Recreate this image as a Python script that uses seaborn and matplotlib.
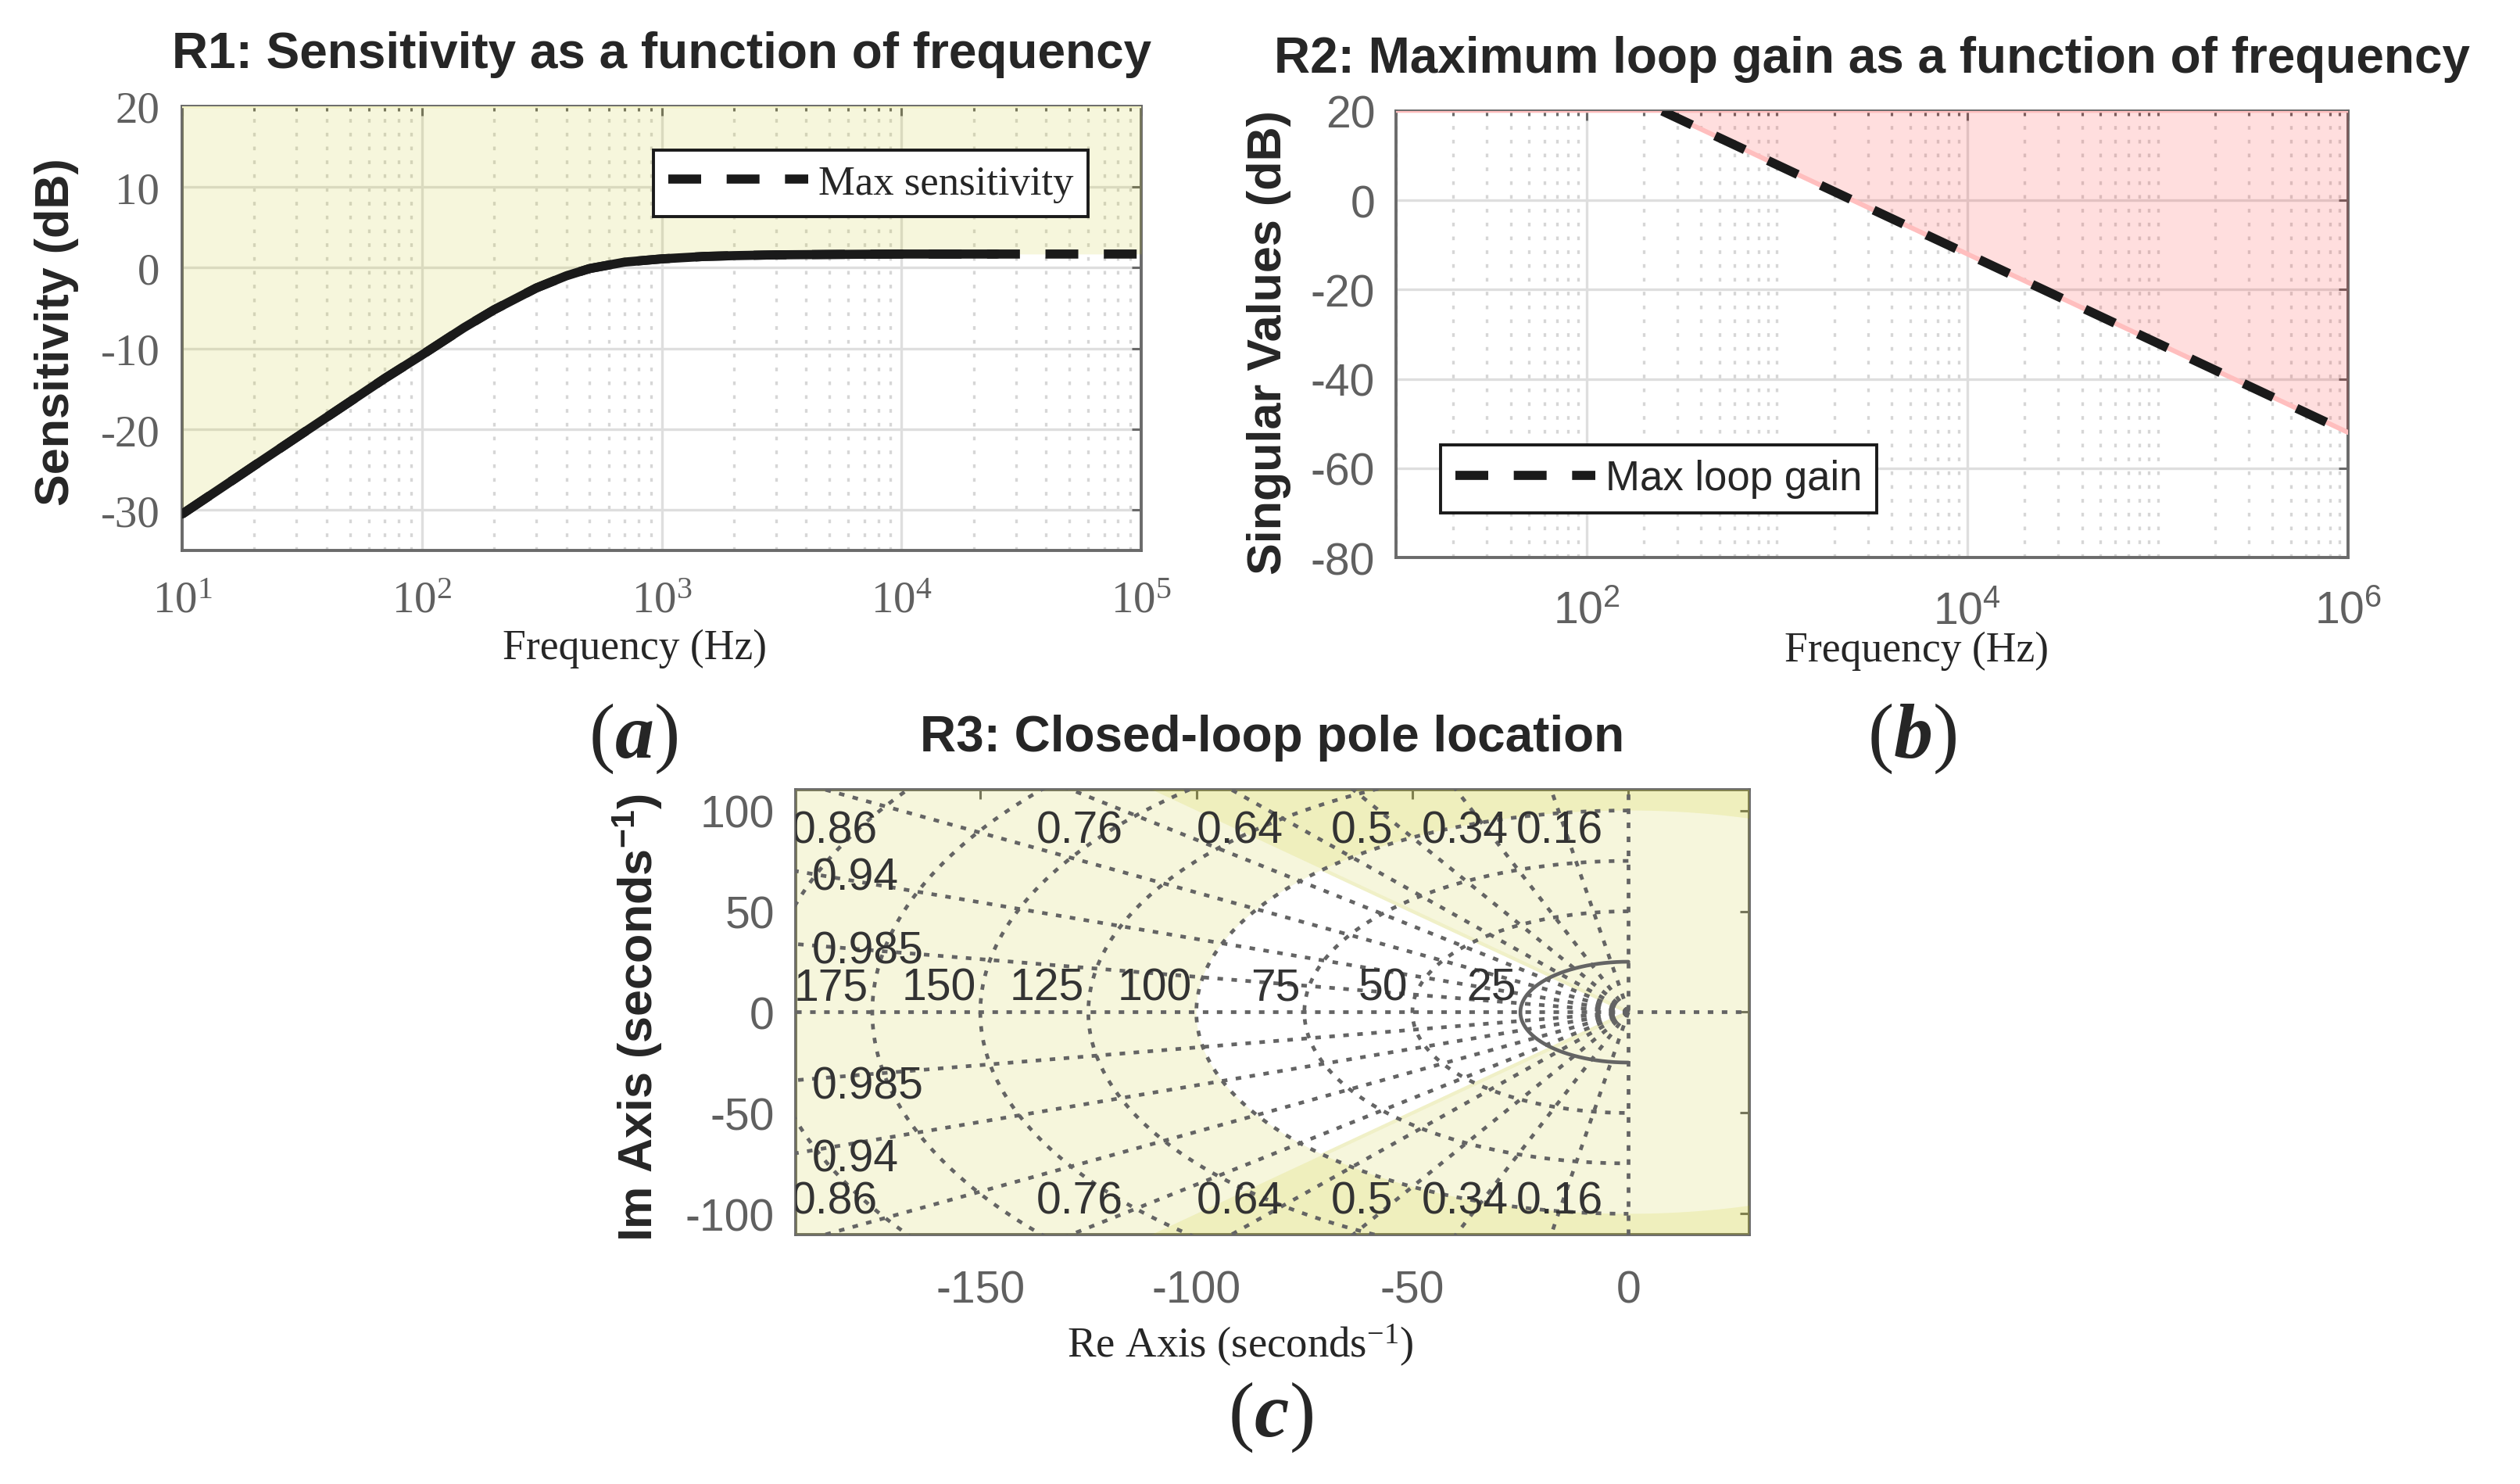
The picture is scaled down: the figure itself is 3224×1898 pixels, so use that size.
import numpy as np
import matplotlib
matplotlib.use('Agg')
import matplotlib.pyplot as plt
import seaborn as sns
from matplotlib.path import Path
from matplotlib.patches import PathPatch
from matplotlib.ticker import LogLocator, FixedLocator, NullFormatter
from matplotlib.offsetbox import TextArea, HPacker, AnnotationBbox

sns.set_theme(style='white')
plt.rcParams['font.family'] = ['Liberation Sans', 'DejaVu Sans']
plt.rcParams['axes.unicode_minus'] = False
plt.rcParams['mathtext.default'] = 'regular'

SANS = 'Liberation Sans'
SERIF = 'Liberation Serif'

# R1: max sensitivity bound (dB) vs frequency (Hz)
sens_freq = [10, 15, 20, 30, 50, 70, 100, 150, 200, 300, 400, 500, 700,
             1000, 1500, 2000, 3000, 5000, 1e4, 2.5e4, 1e5]
sens_db = [-30.5, -27.0, -24.5, -21.0, -16.6, -13.7, -10.8, -7.4, -5.2, -2.5,
           -1.0, -0.1, 0.7, 1.1, 1.4, 1.5, 1.6, 1.65, 1.7, 1.7, 1.7]
sens_solid_end = 2.5e4

# R2: max loop gain bound
gain_freq = [250, 1e6]
gain_db = [20, -52]

# R3: pole constraints and s-grid
zeta_vals = [0.16, 0.34, 0.5, 0.64, 0.76, 0.86, 0.94, 0.985]
wn_vals = [25, 50, 75, 100, 125, 150, 175, 200]
max_freq = 100
min_damping = 0.707

YELLOW = (0.77, 0.77, 0.0)
Y_ALPHA = 0.137
SGRID = '#646464'
DASH = (0, (3.6, 2.8))
MINOR_DOT = (0, (1.4, 3.9))

fig = plt.figure(figsize=(16.12, 9.495), dpi=200)
ax_a = fig.add_axes([0.0723, 0.6288, 0.3806, 0.2991])
ax_b = fig.add_axes([0.5540, 0.6240, 0.3778, 0.3007])
ax_c = fig.add_axes([0.3158, 0.1680, 0.3784, 0.2996])


def style_axis(ax, family, size, xpad, ypad):
    ax.set_axisbelow(True)
    ax.tick_params(which='both', direction='in', top=True, right=True,
                   color='#6a6a6a', labelcolor='#606060', labelsize=size,
                   labelfontfamily=family)
    ax.tick_params(which='major', length=4.2, width=1.1)
    ax.tick_params(which='minor', length=2.2, width=1.1)
    ax.tick_params(axis='x', which='both', pad=xpad)
    ax.tick_params(axis='y', which='both', pad=ypad)
    for sp in ax.spines.values():
        sp.set_visible(True)
        sp.set_color('#6a6a6a')
        sp.set_linewidth(1.4)


def log_grid(ax):
    ax.grid(True, which='major', color='#dedede', lw=1.2, ls='-')
    ax.grid(True, which='minor', axis='x', color='#d6d6d6', lw=1.2, ls=MINOR_DOT)


def title(ax, text):
    ax.set_title(text, fontsize=23, fontweight='bold', family=SANS, pad=18)


# ---------------- (a) sensitivity ----------------
ax = ax_a
ax.set_xscale('log')
ax.fill_between(sens_freq, sens_db, 20, color=YELLOW, alpha=Y_ALPHA, lw=0, zorder=2.6)
ax.axhline(20, color=(0.95, 0.95, 0.77), lw=1.6, zorder=2.7)
sns.lineplot(x=sens_freq, y=sens_db, ax=ax, color='k', lw=4.2, linestyle=DASH,
             sort=False, estimator=None, label='Max sensitivity', zorder=4)
n_solid = sens_freq.index(sens_solid_end) + 1
sns.lineplot(x=sens_freq[:n_solid], y=sens_db[:n_solid], ax=ax, color='k', lw=4.2,
             sort=False, estimator=None, zorder=5)
ax.set_xlim(10, 1e5)
ax.set_ylim(-35, 20)
ax.set_yticks([-30, -20, -10, 0, 10, 20])
ax.xaxis.set_major_locator(LogLocator(base=10, numticks=20))
ax.xaxis.set_minor_locator(LogLocator(base=10, subs=np.arange(2, 10), numticks=50))
ax.xaxis.set_minor_formatter(NullFormatter())
style_axis(ax, SERIF, 20.5, 14, 10.4)
log_grid(ax)
title(ax, 'R1: Sensitivity as a function of frequency')
ax.set_xlabel('Frequency (Hz)', family=SERIF, fontsize=19.3)
ax.set_ylabel('Sensitivity (dB)', family=SANS, fontsize=22, fontweight='bold')
ax.xaxis.set_label_coords(0.472, -0.176)
ax.yaxis.set_label_coords(-0.108, 0.493)
leg = ax.legend(loc='upper right', bbox_to_anchor=(0.9446, 0.901), borderaxespad=0,
                frameon=True, fancybox=False, edgecolor='k', framealpha=1,
                handlelength=3.4, handletextpad=0.25, borderpad=0.35,
                prop={'family': SERIF, 'size': 19})
leg.get_frame().set_linewidth(1.4)
leg.set_zorder(10)

# ---------------- (b) loop gain ----------------
ax = ax_b
ax.set_xscale('log')
ax.fill_between(gain_freq, gain_db, 20, color='red', alpha=0.13, lw=0, zorder=2.6)
ax.axhline(20, color='#ffbebe', lw=1.6, zorder=2.7)
ax.plot(gain_freq, gain_db, color='#ffbebe', lw=2.2, zorder=2.7)
sns.lineplot(x=gain_freq, y=gain_db, ax=ax, color='k', lw=4.2, linestyle=DASH,
             sort=False, estimator=None, label='Max loop gain', zorder=4)
ax.set_xlim(10, 1e6)
ax.set_ylim(-80, 20)
ax.set_yticks([-80, -60, -40, -20, 0, 20])
ax.xaxis.set_major_locator(FixedLocator([1e2, 1e4, 1e6]))
ax.xaxis.set_minor_locator(LogLocator(base=10, subs=np.arange(1, 10), numticks=60))
ax.xaxis.set_minor_formatter(NullFormatter())
style_axis(ax, SANS, 20.5, 15, 9.7)
log_grid(ax)
title(ax, 'R2: Maximum loop gain as a function of frequency')
ax.set_xlabel('Frequency (Hz)', family=SERIF, fontsize=19.3)
ax.set_ylabel('Singular Values (dB)', family=SANS, fontsize=22, fontweight='bold')
ax.xaxis.set_label_coords(0.547, -0.164)
ax.yaxis.set_label_coords(-0.110, 0.483)
leg = ax.legend(loc='lower left', bbox_to_anchor=(0.047, 0.1), borderaxespad=0,
                frameon=True, fancybox=False, edgecolor='k', framealpha=1,
                handlelength=3.4, handletextpad=0.25, borderpad=0.35,
                prop={'family': SANS, 'size': 19})
leg.get_frame().set_linewidth(1.4)
leg.set_zorder(10)

# ---------------- (c) pole locations ----------------
ax = ax_c
xmin, xmax, ymin, ymax = -192.7, 28.0, -110.3, 110.3
big = 2000.0

# region outside the max-frequency disk
th = np.linspace(2 * np.pi, 0, 721)
outer = [(-big, -big), (big, -big), (big, big), (-big, big), (-big, -big)]
inner = list(zip(max_freq * np.cos(th), max_freq * np.sin(th)))
verts = outer + inner
codes = ([Path.MOVETO] + [Path.LINETO] * 3 + [Path.CLOSEPOLY] +
         [Path.MOVETO] + [Path.LINETO] * (len(inner) - 2) + [Path.CLOSEPOLY])
ax.add_patch(PathPatch(Path(verts, codes), facecolor=YELLOW, alpha=Y_ALPHA,
                       lw=0, zorder=2.6))
# region outside the min-damping cone
s_min = np.sqrt(1 - min_damping ** 2)
cone = [(0, 0), (-big * min_damping, big * s_min), (big, big), (big, -big),
        (-big * min_damping, -big * s_min), (0, 0)]
ax.add_patch(plt.Polygon(cone, closed=True, facecolor=YELLOW, alpha=Y_ALPHA,
                         lw=0, zorder=2.6))
ax.plot([-max_freq * min_damping, 0, -max_freq * min_damping],
        [max_freq * s_min, 0, -max_freq * s_min], color=(0.94, 0.94, 0.78),
        lw=1.6, zorder=2.7)

# s-grid: damping rays
sg = dict(color=SGRID, lw=1.7, zorder=3, dash_capstyle='butt')
for z in zeta_vals:
    s = np.sqrt(1 - z ** 2)
    for sign in (1, -1):
        ax.plot([0, -600 * z], [0, sign * 600 * s], ls=(0, (1.5, 2.3)), **sg)
# s-grid: natural frequency circles
th = np.linspace(np.pi / 2, 3 * np.pi / 2, 500)
for i, wn in enumerate(wn_vals):
    ls = '-' if i == 0 else (0, (1.5, 2.3))
    ax.plot(wn * np.cos(th), wn * np.sin(th), ls=ls, **sg)
ax.axhline(0, ls=(0, (1.5, 2.3)), **sg)
ax.axvline(0, ls=(0, (1.5, 2.3)), **sg)

lab = dict(family=SANS, fontsize=20.5, color='#333333', zorder=4, clip_on=True)
for z in zeta_vals:
    s = np.sqrt(1 - z ** 2)
    x_top = -ymax * z / s
    txt = '{:g}'.format(z)
    if x_top >= xmin:
        ax.text(x_top + 2, ymax - 26.2, txt, ha='center', va='baseline', **lab)
        ax.text(x_top + 2, ymin + 10.7, txt, ha='center', va='baseline', **lab)
    else:
        y_left = -xmin * s / z
        ax.text(xmin + 3.7, y_left - 1.0, txt, ha='left', va='center_baseline', **lab)
        ax.text(xmin + 3.7, -y_left - 0.8, txt, ha='left', va='center_baseline', **lab)
for wn in wn_vals:
    if -wn - 1 > xmin:
        ax.text(-wn - 1, 6.2, str(wn), ha='right', va='baseline', **lab)

ax.set_xlim(xmin, xmax)
ax.set_ylim(ymin, ymax)
ax.set_xticks([-150, -100, -50, 0])
ax.set_yticks([-100, -50, 0, 50, 100])
style_axis(ax, SANS, 20.5, 16, 9.8)
title(ax, 'R3: Closed-loop pole location')
ax.set_xlabel('Re Axis (seconds$^{-1}$)', family=SERIF, fontsize=19.7)
ax.set_ylabel('Im Axis (seconds$^{-1}$)', family=SANS, fontsize=22, fontweight='bold')
ax.xaxis.set_label_coords(0.466, -0.197)
ax.yaxis.set_label_coords(-0.138, 0.49)


# ---------------- panel tags ----------------
def panel_tag(letter, x, y):
    parts = [TextArea('(', textprops=dict(family=SERIF, size=36)),
             TextArea(letter, textprops=dict(family=SERIF, size=36,
                                             weight='bold', style='italic')),
             TextArea(')', textprops=dict(family=SERIF, size=36))]
    box = HPacker(children=parts, align='baseline', pad=0, sep=0)
    ab = AnnotationBbox(box, (x, y), xycoords='figure fraction', frameon=False,
                        box_alignment=(0.5, 0.5))
    fig.add_artist(ab)


panel_tag('a', 0.2519, 0.5024)
panel_tag('b', 0.7593, 0.5024)
panel_tag('c', 0.5047, 0.0453)

fig.savefig('out.png', dpi=200)
